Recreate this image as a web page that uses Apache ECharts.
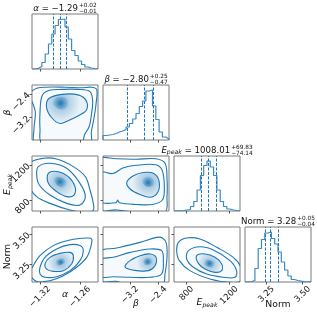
<!DOCTYPE html>
<html><head><meta charset="utf-8">
<script src="https://cdn.jsdelivr.net/npm/echarts@6/dist/echarts.min.js"></script>
<style>html,body{margin:0;padding:0;background:#fff}#c{width:317px;height:313px}</style>
</head><body><div id="c"></div>
<script>
// ---------------- data ----------------
const axisMin = [-1.332, -3.97, 682, 3.103];
const axisMax = [-1.233, -2.09, 1302, 3.558];
const tickValues = [[-1.32, -1.26], [-3.2, -2.4], [800, 1200], [3.25, 3.5]];
const tickLabels = [['−1.32', '−1.26'], ['−3.2', '−2.4'], ['800', '1200'], ['3.25', '3.50']];

const histAlpha = [0, 1.3, 5, 13, 30, 50, 70, 87, 99, 100, 84, 60, 37, 27, 16, 9, 4, 2, 1, 0.5];
const histBeta = [9, 10, 11, 13, 16, 18, 21, 26, 33, 42, 53, 67, 78, 98, 100, 68, 41, 16, 6, 2];
const histEpeak = [0.5, 0.5, 1, 2, 3, 9, 19, 42, 71, 91, 100, 88, 71, 42, 19, 9, 4, 2, 1, 0.5];
const histNorm = [0.5, 1, 3, 27, 67, 85, 98, 100, 87, 76, 60, 40, 24, 12, 5, 3, 1.6, 0.9, 0.5, 0.3];

const quantAlpha = [-1.301, -1.290, -1.2765];
const quantBeta = [-3.27, -2.80, -2.55];
const quantEpeak = [933.87, 1008.01, 1077.84];
const quantNorm = [3.24, 3.28, 3.33];

const titleMain = ['−1.29', '−2.80', '1008.01', '3.28'];
const titleSup = ['+0.02', '+0.25', '+69.83', '+0.05'];
const titleSub = ['−0.01', '−0.47', '−74.14', '−0.04'];

// contours (outer -> inner), data units [x, y]
const contAlphaBeta = [
  [[-1.337,-2.466],[-1.327,-2.222],[-1.312,-2.165],[-1.282,-2.165],[-1.258,-2.184],[-1.243,-2.165],[-1.235,-2.240],[-1.236,-2.748],[-1.239,-3.218],[-1.243,-3.688],[-1.245,-4.064],[-1.327,-4.064],[-1.329,-3.594],[-1.327,-3.030],[-1.332,-2.654]],
  [[-1.317,-2.466],[-1.307,-2.278],[-1.287,-2.240],[-1.263,-2.240],[-1.245,-2.316],[-1.241,-2.654],[-1.243,-3.124],[-1.246,-3.500],[-1.253,-3.782],[-1.258,-4.064],[-1.317,-4.064],[-1.320,-3.594],[-1.320,-3.030]],
  [[-1.307,-2.560],[-1.287,-2.410],[-1.263,-2.428],[-1.251,-2.616],[-1.250,-2.936],[-1.261,-3.124],[-1.278,-3.312],[-1.290,-3.406],[-1.302,-3.218],[-1.310,-2.880]],
  [[-1.302,-2.654],[-1.294,-2.504],[-1.282,-2.504],[-1.275,-2.654],[-1.278,-2.842],[-1.287,-2.936],[-1.297,-2.842]]
];
const contAlphaEpeak = [
  [[-1.335,1219],[-1.315,1276],[-1.295,1268],[-1.270,1182],[-1.252,1069],[-1.245,919],[-1.240,768],[-1.240,693],[-1.250,663],[-1.275,693],[-1.305,768],[-1.325,844],[-1.335,956]],
  [[-1.3225,1182],[-1.305,1220],[-1.280,1163],[-1.260,994],[-1.252,844],[-1.260,750],[-1.280,768],[-1.305,862],[-1.321,975],[-1.325,1088]],
  [[-1.3075,1107],[-1.2925,1125],[-1.2775,1069],[-1.2675,956],[-1.269,862],[-1.280,844],[-1.295,900],[-1.3075,994]],
  [[-1.299,1054],[-1.290,1066],[-1.2805,1023],[-1.2775,961],[-1.2845,942],[-1.2944,973]]
];
const contBetaEpeak = [
  [[-4.064,1265],[-3.594,1271],[-3.030,1265],[-2.466,1271],[-2.203,1221],[-2.147,1054],[-2.147,837],[-2.203,670],[-3.030,670],[-3.594,694],[-4.064,701]],
  [[-4.064,1116],[-3.688,1104],[-3.406,1166],[-3.030,1197],[-2.466,1203],[-2.278,1135],[-2.222,930],[-2.278,806],[-2.560,756],[-3.030,756],[-3.500,775],[-3.556,806],[-3.594,775],[-4.064,794]],
  [[-3.293,1004],[-3.105,1079],[-2.823,1116],[-2.522,1104],[-2.372,1017],[-2.410,893],[-2.616,837],[-2.917,868],[-3.199,930]],
  [[-2.842,1054],[-2.654,1073],[-2.504,1023],[-2.560,961],[-2.748,961],[-2.842,1004]]
];
const contAlphaNorm = [
  [[-1.330,3.238],[-1.320,3.321],[-1.300,3.404],[-1.275,3.451],[-1.250,3.467],[-1.2425,3.459],[-1.244,3.390],[-1.250,3.307],[-1.265,3.225],[-1.285,3.155],[-1.305,3.114],[-1.325,3.108],[-1.335,3.171]],
  [[-1.320,3.225],[-1.3125,3.307],[-1.295,3.376],[-1.275,3.412],[-1.260,3.404],[-1.255,3.362],[-1.260,3.280],[-1.275,3.197],[-1.295,3.147],[-1.3125,3.142],[-1.320,3.169]],
  [[-1.3125,3.252],[-1.305,3.307],[-1.290,3.340],[-1.275,3.348],[-1.270,3.321],[-1.2725,3.252],[-1.285,3.197],[-1.300,3.191],[-1.310,3.210]],
  [[-1.300,3.253],[-1.294,3.285],[-1.2845,3.299],[-1.2805,3.280],[-1.2865,3.249],[-1.295,3.235]]
];
const contBetaNorm = [
  [[-4.064,3.353],[-3.581,3.384],[-2.917,3.431],[-2.442,3.472],[-2.278,3.467],[-2.165,3.422],[-2.147,3.308],[-2.203,3.171],[-2.278,3.080],[-3.218,3.080],[-3.594,3.108],[-4.064,3.117]],
  [[-4.064,3.285],[-3.675,3.307],[-3.201,3.348],[-2.631,3.376],[-2.299,3.362],[-2.252,3.285],[-2.299,3.169],[-2.631,3.142],[-3.201,3.142],[-3.675,3.147],[-4.064,3.149]],
  [[-3.344,3.230],[-3.201,3.280],[-2.915,3.321],[-2.631,3.335],[-2.460,3.307],[-2.489,3.238],[-2.678,3.197],[-3.011,3.197],[-3.248,3.210]],
  [[-2.880,3.285],[-2.729,3.303],[-2.560,3.294],[-2.579,3.253],[-2.767,3.244],[-2.880,3.258]]
];
const contEpeakNorm = [
  [[723,3.431],[801,3.467],[926,3.459],[1083,3.390],[1239,3.307],[1310,3.225],[1310,3.114],[1208,3.100],[1020,3.128],[832,3.197],[732,3.280],[707,3.362]],
  [[817,3.362],[926,3.395],[1052,3.368],[1208,3.280],[1270,3.197],[1255,3.142],[1145,3.142],[989,3.169],[864,3.225],[801,3.293]],
  [[895,3.321],[973,3.335],[1067,3.307],[1130,3.252],[1130,3.197],[1067,3.183],[973,3.210],[911,3.257]],
  [[961,3.285],[1023,3.285],[1079,3.249],[1066,3.221],[1004,3.230],[955,3.258]]
];
const coreAlphaBeta = [-1.289, -2.72];
const coreAlphaEpeak = [-1.290, 1010];
const coreBetaEpeak = [-2.68, 1005];
const coreAlphaNorm = [-1.289, 3.266];
const coreBetaNorm = [-2.70, 3.27];
const coreEpeakNorm = [1015, 3.255];

// ---------------- layout / style ----------------
const C = '#1f77b4';
const colLeft = [32, 103, 174, 245], colW = 66;
const rowTop = [14, 85, 156, 227], rowH = 55;
const FF = 'DejaVu Sans';
const TICKFS = 8.5, LABFS = 8.6, SUBFS = 5.8, PEAKFS = 6.2, NAMEFS = 9.3;

const hists = [histAlpha, histBeta, histEpeak, histNorm];
const quants = [quantAlpha, quantBeta, quantEpeak, quantNorm];
const pairs = {
  '1,0': [contAlphaBeta, coreAlphaBeta],
  '2,0': [contAlphaEpeak, coreAlphaEpeak],
  '2,1': [contBetaEpeak, coreBetaEpeak],
  '3,0': [contAlphaNorm, coreAlphaNorm],
  '3,1': [contBetaNorm, coreBetaNorm],
  '3,2': [contEpeakNorm, coreEpeakNorm]
};

function fmt(idx) {
  return v => {
    const k = tickValues[idx].findIndex(t => Math.abs(t - v) < 1e-9 * Math.max(1, Math.abs(t)));
    return k >= 0 ? tickLabels[idx][k] : '';
  };
}
function histData(counts, lo, hi) {
  const n = counts.length, w = (hi - lo) / n;
  const d = [[lo, 0]];
  counts.forEach((c, i) => d.push([lo + i * w, c]));
  d.push([hi, counts[n - 1]], [hi, 0]);
  return d;
}

const mctx = document.createElement('canvas').getContext('2d');
function tw(t, size, it) { mctx.font = (it ? 'italic ' : 'normal ') + size + 'px "' + FF + '"'; return mctx.measureText(t).width; }

function draw() {
  tw('α = −1.29', LABFS, true); tw('α = −1.29', LABFS, false);

  const grids = [], xAxes = [], yAxes = [], series = [];
  const bottomAxisIdx = [];
  let g = 0;
  for (let r = 0; r < 4; r++) {
    for (let c = 0; c <= r; c++) {
      if (r === 3) bottomAxisIdx[c] = g;
      grids.push({left: colLeft[c], top: rowTop[r], width: colW, height: rowH, show: true,
        borderColor: '#7a7a7a', borderWidth: 1, backgroundColor: 'transparent', outerBoundsMode: 'none', containLabel: false});
      xAxes.push({type: 'value', gridIndex: g, min: axisMin[c], max: axisMax[c],
        axisLine: {show: false}, splitLine: {show: false},
        axisTick: {show: true, length: 2.5, customValues: tickValues[c], lineStyle: {color: '#555', width: 1}},
        axisLabel: {show: false}});
      if (r === c) {
        const h = hists[r];
        yAxes.push({type: 'value', gridIndex: g, min: 0, max: 1.1 * Math.max(...h),
          axisLine: {show: false}, splitLine: {show: false}, axisTick: {show: false}, axisLabel: {show: false}});
        series.push({type: 'line', xAxisIndex: g, yAxisIndex: g, step: 'end', showSymbol: false, silent: true,
          data: histData(h, axisMin[r], axisMax[r]), lineStyle: {color: '#3a8ac6', width: 1.2}, clip: true,
          markLine: {silent: true, symbol: 'none', label: {show: false}, animation: false,
            lineStyle: {type: [3, 1.5], color: C, width: 1}, emphasis: {disabled: true},
            data: quants[r].map(v => ({xAxis: v}))}});
      } else {
        yAxes.push({type: 'value', gridIndex: g, min: axisMin[r], max: axisMax[r],
          axisLine: {show: false}, splitLine: {show: false},
          axisTick: {show: true, length: 2.5, customValues: tickValues[r], lineStyle: {color: '#555', width: 1}},
          axisLabel: {show: c === 0, customValues: tickValues[r], formatter: fmt(r), rotate: 45, margin: 3,
            fontSize: 9, fontFamily: FF, color: '#111'}});
        const [levels, core] = pairs[r + ',' + c];
        series.push({type: 'custom', xAxisIndex: g, yAxisIndex: g, clip: true, silent: true,
          data: levels.map((l, i) => [l[0][0], l[0][1], i]),
          renderItem: (params, api) => {
            const i = api.value(2);
            const pts = levels[i].map(p => api.coord(p));
            let fill = 'none';
            let stroke = C;
            if (i === 1) fill = 'rgba(31,119,180,0.035)';
            else if (i >= 2) {
              const xs = pts.map(p => p[0]), ys = pts.map(p => p[1]);
              const x0 = Math.min(...xs), x1 = Math.max(...xs), y0 = Math.min(...ys), y1 = Math.max(...ys);
              const cp = api.coord(core);
              const cx = (cp[0] - x0) / (x1 - x0), cy = (cp[1] - y0) / (y1 - y0);
              if (i === 2) {
                fill = new echarts.graphic.RadialGradient(cx, cy, 0.62, [{offset: 0, color: 'rgba(31,119,180,0.5)'}, {offset: 1, color: 'rgba(31,119,180,0.08)'}]);
              } else {
                fill = new echarts.graphic.RadialGradient(cx, cy, 0.65, [{offset: 0, color: 'rgba(31,119,180,1)'}, {offset: 0.35, color: 'rgba(31,119,180,0.6)'}, {offset: 1, color: 'rgba(31,119,180,0)'}]);
                stroke = 'none';
              }
            }
            return {type: 'polygon', shape: {points: pts, smooth: 0.35},
              style: {fill: fill, stroke: stroke, lineWidth: 1.1}};
          }});
      }
      g++;
    }
  }

  const chart = echarts.init(document.getElementById('c'), null, {renderer: 'canvas'});
  chart.setOption({animation: false, grid: grids, xAxis: xAxes, yAxis: yAxes, series: series});

  function txt(t, x, y, size, it, align) {
    return {type: 'text', x: x, y: y, silent: true, style: {text: t, fontSize: size, fontFamily: FF,
      fontStyle: it ? 'italic' : 'normal', fill: '#111', align: align || 'left', verticalAlign: 'middle'}};
  }
  function segWidth(segs) { return segs.reduce((a, s) => a + tw(s.t, s.size, s.it), 0); }
  function row(segs, x0, y) {
    let x = x0; const els = [];
    segs.forEach(s => { els.push(txt(s.t, x, y + (s.dy || 0), s.size, s.it)); x += tw(s.t, s.size, s.it); });
    return {els, x};
  }
  function nameSegs(i, fs) {
    if (i === 0) return [{t: 'α', size: fs, it: true}];
    if (i === 1) return [{t: 'β', size: fs, it: true}];
    if (i === 2) return [{t: 'E', size: fs, it: true}, {t: 'peak', size: PEAKFS, it: true, dy: 2.2}];
    return [{t: 'Norm', size: fs}];
  }
  const graphics = [];
  const axisBottom = rowTop[3] + rowH;
  for (let i = 0; i < 4; i++) {
    const segs = nameSegs(i, LABFS).concat([{t: ' = ' + titleMain[i], size: LABFS}]);
    const mw = segWidth(segs);
    const sw = Math.max(tw(titleSup[i], SUBFS), tw(titleSub[i], SUBFS));
    const cx = colLeft[i] + colW / 2, ty = rowTop[i] - 5.5;
    const r = row(segs, cx - (mw + 1 + sw) / 2, ty);
    graphics.push(...r.els, txt(titleSup[i], r.x + 1, ty - 3, SUBFS), txt(titleSub[i], r.x + 1, ty + 2.5, SUBFS));
    // bottom tick labels: rotated 45°, centred under each tick (x from the axis scale)
    tickValues[i].forEach((v, k) => {
      const px = chart.convertToPixel({xAxisIndex: bottomAxisIdx[i]}, v);
      const w = tw(tickLabels[i][k], TICKFS);
      const half = (w + 0.7 * TICKFS) * 0.7071 / 2;
      graphics.push({type: 'group', x: px, y: axisBottom + 3.5 + half, rotation: Math.PI / 4, silent: true,
        children: [txt(tickLabels[i][k], 0, 0, TICKFS, false, 'center')]});
    });
    const ns = nameSegs(i, NAMEFS);
    const nw = segWidth(ns);
    const ly = [295, 304, 303, 305][i];
    graphics.push(...row(ns, cx - nw / 2, ly).els);
    if (i > 0) {
      const cy = rowTop[i] + rowH / 2 + [0, 0, 1, 2][i];
      graphics.push({type: 'group', x: 8, y: cy, rotation: Math.PI / 2, children: row(ns, -nw / 2, 0).els});
    }
  }
  chart.setOption({graphic: graphics});
}

let done = false;
function go() { if (!done) { done = true; draw(); } }
try {
  Promise.all([
    document.fonts.load('normal 10px "DejaVu Sans"'),
    document.fonts.load('italic 10px "DejaVu Sans"')
  ]).then(go, go);
  setTimeout(go, 300);
} catch (e) { go(); }
</script></body></html>
